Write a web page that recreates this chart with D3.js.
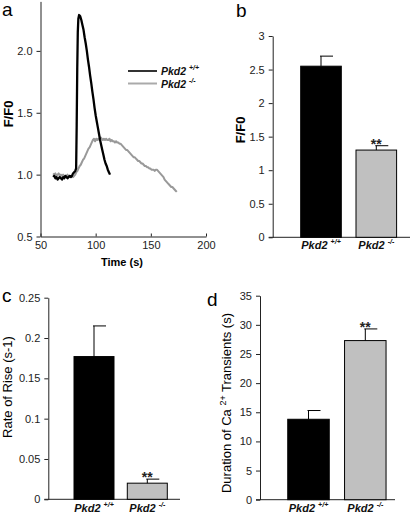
<!DOCTYPE html>
<html><head><meta charset="utf-8">
<script src="https://cdn.jsdelivr.net/npm/d3@7"></script>
<style>
html,body{margin:0;padding:0;background:#fff;}
svg{display:block;font-family:"Liberation Sans",Arial,sans-serif;}
</style></head>
<body>
<script>
// ---------- DATA ----------
const groups = ["Pkd2 +/+", "Pkd2 -/-"];
const groupBase = ["Pkd2", "Pkd2"];
const groupSup = ["+/+", "-/-"];

// Panel a: time traces
const wtTime = [61.5,62.5,63.5,64.5,65.5,66.5,67.5,68.5,69.5,70.5,71.5,72.5,73.5,74.5,75.5,76.5,77.5,78.5,79.5,80.5,81.5,82.3,82.8,83.3,83.8,84.3,85.0,86.0,87.0,88.0,89.0,90.0,91.0,92.0,93.0,94.0,95.0,96.0,97.0,98.0,99.0,100.0,101.0,102.0,103.0,104.0,105.0,106.0,107.0,108.0,109.0,110.0,111.0,112.0,113.0];
const wtValue = [0.98,0.99,0.97,0.98,0.96,0.97,0.98,0.97,0.96,0.98,0.97,0.99,0.98,0.97,0.98,0.99,0.98,0.99,1.01,1.02,1.03,1.05,1.40,1.85,2.15,2.26,2.29,2.28,2.25,2.21,2.17,2.11,2.06,2.00,1.93,1.87,1.80,1.74,1.67,1.61,1.54,1.48,1.43,1.38,1.33,1.28,1.24,1.20,1.16,1.12,1.09,1.07,1.04,1.02,1.00];

const koTime = [61.5,62.5,63.5,64.5,65.5,66.5,67.5,68.5,69.5,70.5,71.5,72.5,73.5,74.5,75.5,76.5,77.5,78.5,79.5,80.5,81.5,82.5,83.5,84.5,85.5,86.5,87.5,88.5,89.5,90.5,91.5,92.5,93.5,94.5,95.5,96.5,97.5,98.5,99.5,100.5,101.5,102.5,103.5,104.5,105.5,106.5,107.5,108.5,109.5,110.5,111.5,112.5,113.5,114.5,115.5,116.5,117.5,118.5,119.5,120.5,121.5,122.5,123.5,124.5,125.5,126.5,127.5,128.5,129.5,130.5,131.5,132.5,133.5,134.5,135.5,136.5,137.5,138.5,139.5,140.5,141.5,142.5,143.5,144.5,145.5,146.5,147.5,148.5,149.5,150.5,151.5,152.5,153.5,154.5,155.5,156.5,157.5,158.5,159.5,160.5,161.5,162.5,163.5,164.5,165.5,166.5,167.5,168.5,169.5,170.5,171.5,172.5,173.5];
const koValue = [1.01,1.00,1.01,0.99,1.00,1.01,0.99,1.00,0.99,1.00,0.99,0.98,0.99,1.00,0.98,0.99,0.98,0.99,0.98,0.99,1.00,1.02,1.03,1.05,1.07,1.08,1.10,1.12,1.13,1.15,1.17,1.19,1.21,1.22,1.24,1.26,1.28,1.29,1.27,1.29,1.28,1.29,1.28,1.30,1.29,1.28,1.29,1.28,1.29,1.28,1.28,1.29,1.27,1.28,1.27,1.27,1.26,1.27,1.26,1.26,1.25,1.25,1.24,1.23,1.22,1.21,1.20,1.20,1.19,1.18,1.17,1.16,1.15,1.14,1.14,1.13,1.12,1.11,1.11,1.10,1.09,1.09,1.08,1.07,1.07,1.06,1.06,1.05,1.05,1.04,1.04,1.04,1.03,1.04,1.04,1.03,1.02,1.01,1.00,0.99,0.98,0.96,0.95,0.94,0.93,0.92,0.91,0.90,0.90,0.89,0.88,0.87,0.86];

const aYTicks = [0.5, 1.0, 1.5, 2.0];
const aXTicks = [50, 100, 150, 200];

// Panel b: peak F/F0
const bMean = [2.55, 1.30];
const bErr = [0.15, 0.065];
const bTicks = [0, 0.5, 1, 1.5, 2, 2.5, 3];

// Panel c: rate of rise
const cMean = [0.177, 0.020];
const cErr = [0.038, 0.005];
const cTicks = [0, 0.05, 0.1, 0.15, 0.2, 0.25];

// Panel d: duration
const dMean = [13.8, 27.3];
const dErr = [1.5, 2.0];
const dTicks = [0, 5, 10, 15, 20, 25, 30, 35];

const sig = ["", "**"];
const barFill = ["#000000", "#c0c0c0"];

// ---------- DRAW ----------
const svg = d3.select("body").append("svg").attr("width", 410).attr("height", 516);
const FONT = '"Liberation Sans",Arial,sans-serif';

function styleAxis(g) {
  g.selectAll("path.domain").attr("stroke", "#222").attr("stroke-width", 1);
  g.selectAll(".tick line").attr("stroke", "#222");
  g.selectAll(".tick text").attr("font-size", 11).attr("fill", "#222").attr("font-family", FONT);
}

function panelLabel(txt, x, y) {
  svg.append("text").attr("x", x).attr("y", y).attr("font-size", 19).attr("fill", "#000").text(txt);
}

// ----- Panel a -----
{
  const x = d3.scaleLinear().domain([50, 200]).range([40.5, 206]);
  const y = d3.scaleLinear().domain([0.5, 2.4]).range([236.5, 1.4]);
  const gy = svg.append("g").attr("transform", "translate(40.5,0)")
    .call(d3.axisLeft(y).tickValues(aYTicks).tickFormat(d3.format(".1f")).tickSizeInner(4).tickSizeOuter(0).tickPadding(4));
  styleAxis(gy);
  const gx = svg.append("g").attr("transform", "translate(0,236.5)")
    .call(d3.axisBottom(x).tickValues(aXTicks).tickSizeInner(-3).tickSizeOuter(0).tickPadding(5));
  styleAxis(gx);

  const line = d3.line().x(d => x(d[0])).y(d => y(d[1]));
  svg.append("path").datum(koTime.map((t, i) => [t, koValue[i]]))
    .attr("d", line).attr("fill", "none").attr("stroke", "#999").attr("stroke-width", 2).attr("stroke-linejoin", "round");
  svg.append("path").datum(wtTime.map((t, i) => [t, wtValue[i]]))
    .attr("d", line).attr("fill", "none").attr("stroke", "#000").attr("stroke-width", 2.3).attr("stroke-linejoin", "round");

  // legend
  const leg = [{c: "#333", w: 2}, {c: "#aaa", w: 2}];
  leg.forEach((l, i) => {
    const yy = 71 + i * 12.5;
    svg.append("line").attr("x1", 128).attr("x2", 157).attr("y1", yy).attr("y2", yy)
      .attr("stroke", l.c).attr("stroke-width", l.w);
    const t = svg.append("text").attr("x", 161).attr("y", yy + 4).attr("font-size", 10.5)
      .attr("font-weight", "bold").attr("font-style", "italic").attr("fill", "#111");
    t.append("tspan").text(groupBase[i] + " ");
    t.append("tspan").attr("dy", -5).attr("font-size", 7).text(groupSup[i]);
  });

  svg.append("text").attr("x", 122).attr("y", 266).attr("text-anchor", "middle")
    .attr("font-size", 11).attr("font-weight", "bold").text("Time (s)");
  svg.append("text").attr("transform", "translate(13,114) rotate(-90)").attr("text-anchor", "middle")
    .attr("font-size", 13).attr("font-weight", "bold").text("F/F0");
  panelLabel("a", 2, 16);
}

function barPanel(opt) {
  const y = d3.scaleLinear().domain(opt.domain).range([opt.y0, opt.y1]);
  const step = opt.c2 - opt.c1;
  const pi = 1 - opt.bw / step;
  const x = d3.scaleBand().domain(groups).range([opt.c1 - step / 2, opt.c2 + step / 2])
    .paddingInner(pi).paddingOuter(pi / 2);
  const gy = svg.append("g").attr("transform", `translate(${opt.ax},0)`)
    .call(d3.axisLeft(y).tickValues(opt.ticks).tickFormat(d => String(d)).tickSizeInner(4).tickSizeOuter(0).tickPadding(4));
  styleAxis(gy);
  // x axis baseline
  svg.append("line").attr("x1", opt.ax - 4).attr("x2", opt.axEnd).attr("y1", y(0)).attr("y2", y(0))
    .attr("stroke", "#222").attr("stroke-width", 1);

  groups.forEach((g, i) => {
    const bx = x(g), bw = x.bandwidth(), cx = bx + bw / 2;
    svg.append("rect").attr("x", bx).attr("y", y(opt.mean[i])).attr("width", bw)
      .attr("height", y(0) - y(opt.mean[i])).attr("fill", barFill[i]).attr("stroke", "#000").attr("stroke-width", 1);
    const top = y(opt.mean[i] + opt.err[i]);
    svg.append("line").attr("x1", cx).attr("x2", cx).attr("y1", y(opt.mean[i])).attr("y2", top)
      .attr("stroke", "#000").attr("stroke-width", 1);
    svg.append("line").attr("x1", cx - 1).attr("x2", cx + 12).attr("y1", top).attr("y2", top)
      .attr("stroke", "#000").attr("stroke-width", 1);
    if (sig[i]) {
      svg.append("text").attr("x", cx).attr("y", top + 3).attr("text-anchor", "middle")
        .attr("font-size", 14).attr("font-weight", "bold").attr("fill", "#222").text(sig[i]);
    }
    const t = svg.append("text").attr("x", cx).attr("y", opt.catY).attr("text-anchor", "middle")
      .attr("font-size", 11).attr("font-weight", "bold").attr("font-style", "italic").attr("fill", "#111");
    t.append("tspan").text(groupBase[i] + " ");
    t.append("tspan").attr("dy", -5).attr("font-size", 7).text(groupSup[i]);
  });
  return y;
}

// ----- Panel b -----
barPanel({domain: [0, 3], y0: 237.3, y1: 36, c1: 321, c2: 376.3, bw: 40.6, ax: 272.7, axEnd: 410,
  ticks: bTicks, mean: bMean, err: bErr, catY: 249});
svg.append("text").attr("transform", "translate(245,130) rotate(-90)").attr("text-anchor", "middle")
  .attr("font-size", 13).attr("font-weight", "bold").text("F/F0");
panelLabel("b", 236, 17);

// ----- Panel c -----
barPanel({domain: [0, 0.25], y0: 499.3, y1: 297.7, c1: 94, c2: 147.3, bw: 40, ax: 48.3, axEnd: 180,
  ticks: cTicks, mean: cMean, err: cErr, catY: 512});
svg.append("text").attr("transform", "translate(12,387) rotate(-90)").attr("text-anchor", "middle")
  .attr("font-size", 13).text("Rate of Rise (s-1)");
panelLabel("c", 2, 302);

// ----- Panel d -----
barPanel({domain: [0, 35], y0: 499.7, y1: 295.7, c1: 308.5, c2: 365.3, bw: 41.5, ax: 260, axEnd: 395,
  ticks: dTicks, mean: dMean, err: dErr, catY: 512});
{
  const t = svg.append("text").attr("transform", "translate(231,403) rotate(-90)").attr("text-anchor", "middle")
    .attr("font-size", 13);
  t.append("tspan").text("Duration of Ca ");
  t.append("tspan").attr("dy", -5).attr("font-size", 9).text("2+");
  t.append("tspan").attr("dy", 5).text(" Transients (s)");
}
panelLabel("d", 207, 306);
</script>
</body></html>
